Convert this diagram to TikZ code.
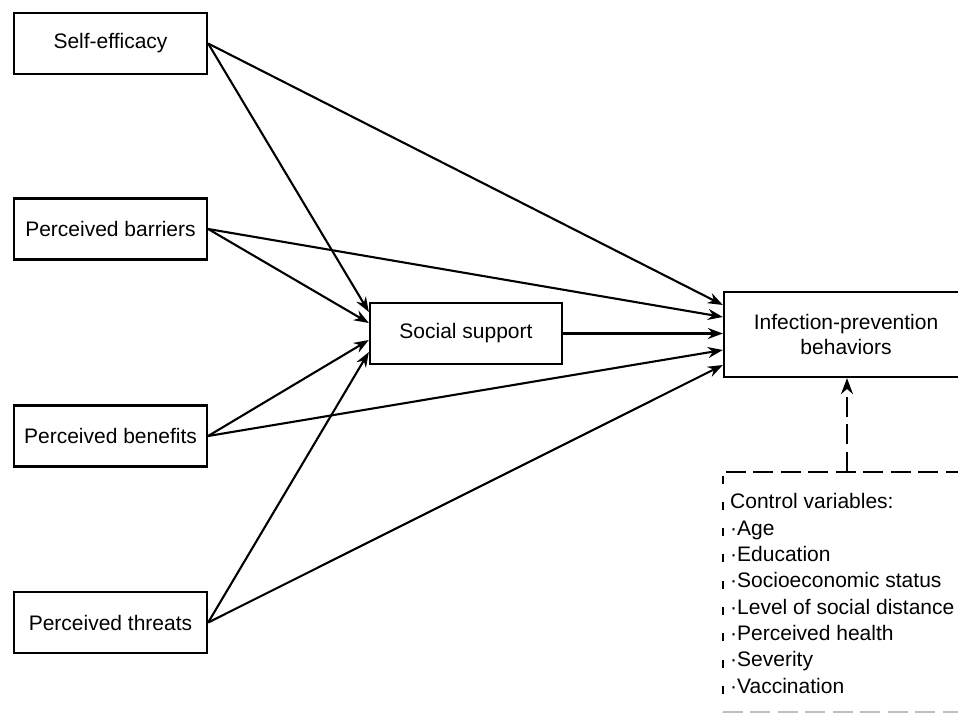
\documentclass[tikz,border=0pt]{standalone}
\usepackage{fontspec}
\setmainfont{Liberation Sans}
\usetikzlibrary{arrows.meta}
\begin{document}
\begin{tikzpicture}[x=1pt,y=-1pt,
 box/.style={draw, line width=2.3pt, inner sep=0pt, font=\fontsize{21}{25}\selectfont},
 leftbox/.style={box, minimum width=193pt, minimum height=61pt},
 arr/.style={line width=2.1pt, -{Stealth[length=15pt,width=11pt]}},
 dsh/.style={line width=2.2pt, dash pattern=on 20pt off 7.5pt},
]
\clip (0,0) rectangle (958,719);
\node[leftbox] (se) at (110.5,43.5) {Self-efficacy};
\node[leftbox] (pb) at (110.5,229) {Perceived barriers};
\node[leftbox] (pbe) at (110.5,436) {Perceived benefits};
\node[leftbox] (pt) at (110.5,622.5) {Perceived threats};
\node[box, minimum width=192pt, minimum height=61pt] (ss) at (466,333.5) {Social support};
\node[box, minimum width=244pt, minimum height=85pt, align=center] (ipb) at (846,334.5) {Infection-prevention\\behaviors};
\node[minimum width=280pt, minimum height=240pt, inner sep=0pt] (ctrl) at (863,592) {};
\node[anchor=north west, align=left, inner sep=0pt, font=\fontsize{21}{26.3}\selectfont] (ctrltxt) at (730,493.5)
 {Control variables:\\·Age\\·Education\\·Socioeconomic status\\·Level of social distance\\·Perceived health\\·Severity\\·Vaccination};
\draw[arr] (se.east) -- ([yshift=21.5pt]ss.west);
\draw[arr] (se.east) -- ([yshift=29.5pt]ipb.west);
\draw[arr] (pb.east) -- ([yshift=10.5pt]ss.west);
\draw[arr] (pb.east) -- ([yshift=17.5pt]ipb.west);
\draw[arr] (pbe.east) -- ([yshift=-6.5pt]ss.west);
\draw[arr] (pbe.east) -- ([yshift=-15.5pt]ipb.west);
\draw[arr] (pt.east) -- ([yshift=-18.5pt]ss.west);
\draw[arr] (pt.east) -- ([yshift=-30.5pt]ipb.west);
\draw[arr] (ss.east) -- (ipb.west |- ss.east);
\draw[dsh, -{Stealth[length=16pt,width=12pt]}] ([xshift=1pt]ipb.south |- ctrl.north) -- ([xshift=1pt]ipb.south);
\draw[dsh, dash phase=-3pt] (ctrl.north west) -- (ctrl.north east);
\draw[line width=2.2pt, dash pattern=on 8pt off 18.3pt, dash phase=22.6pt] (ctrl.north west) -- (ctrl.south west);
\draw[dsh, gray!50] (ctrl.south west) -- (ctrl.south east);
\end{tikzpicture}
\end{document}
